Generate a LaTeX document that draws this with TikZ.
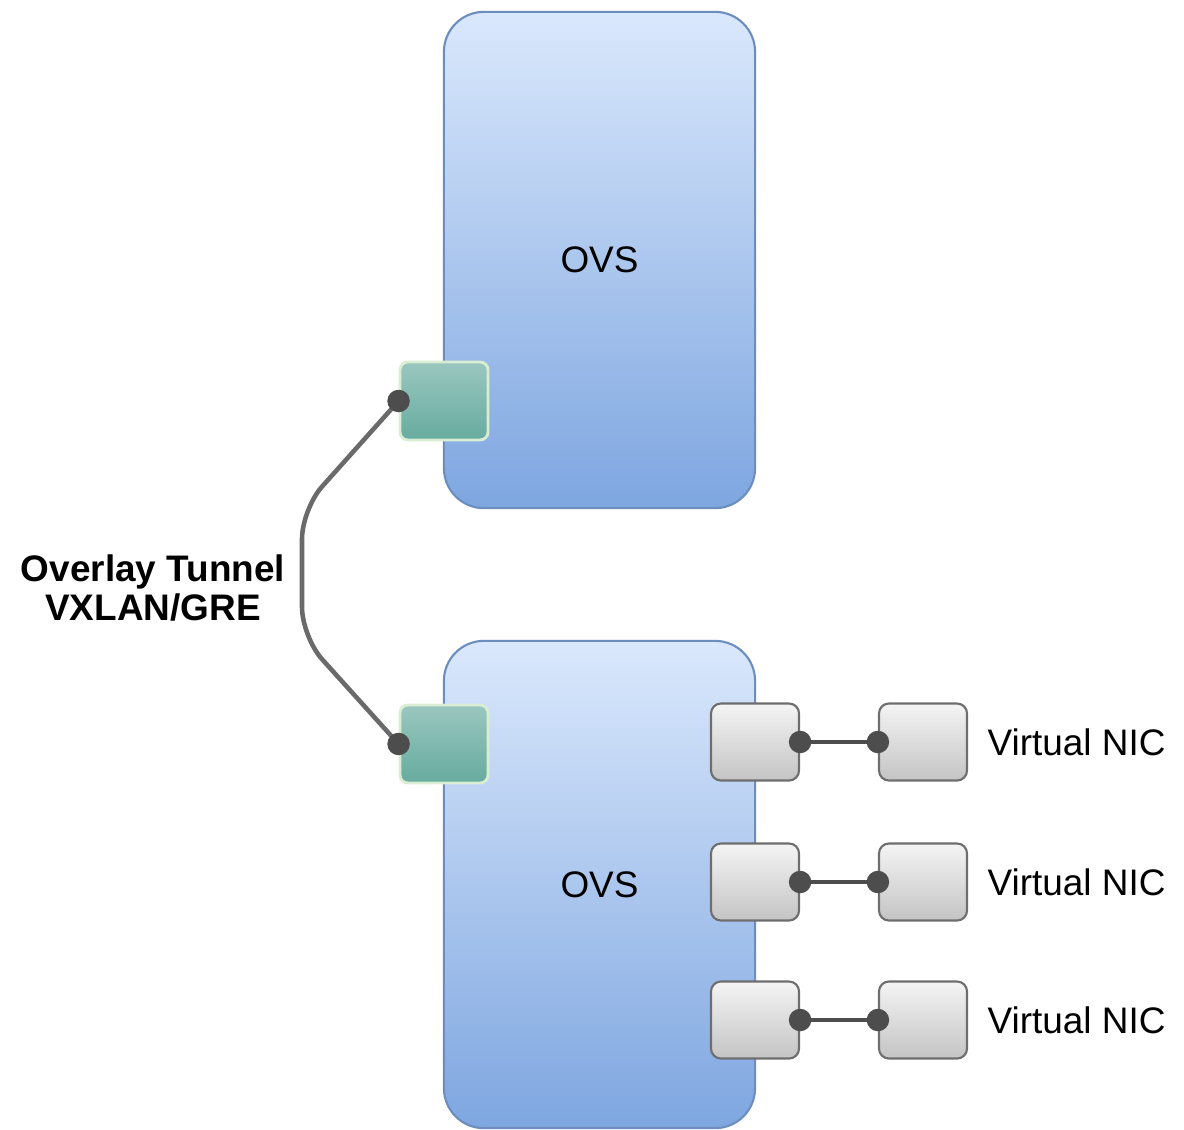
\documentclass[tikz,border=0pt]{standalone}
\usepackage{fontspec}
\setmainfont{Liberation Sans}
\definecolor{ovsTop}{HTML}{DAE8FC}
\definecolor{ovsBot}{HTML}{7EA6E0}
\definecolor{ovsLine}{HTML}{6C8EBF}
\definecolor{portTop}{HTML}{9AC7BF}
\definecolor{portBot}{HTML}{67AB9F}
\definecolor{portLine}{HTML}{D9EDD3}
\definecolor{nicTop}{HTML}{F4F4F4}
\definecolor{nicBot}{HTML}{C4C4C4}
\definecolor{nicLine}{HTML}{6E6E6E}
\definecolor{wire}{HTML}{4D4D4D}
\definecolor{tunnelc}{HTML}{6A6A6A}
\tikzset{
 ovs/.style={draw=ovsLine,line width=0.6pt,rounded corners=0.4cm,top color=ovsTop,bottom color=ovsBot,
  minimum width=3.11cm,minimum height=4.96cm,inner sep=0pt},
 port/.style={draw=portLine,line width=0.8pt,rounded corners=0.08cm,top color=portTop,bottom color=portBot,
  minimum width=0.88cm,minimum height=0.78cm,inner sep=0pt},
 nic/.style={draw=nicLine,line width=0.6pt,rounded corners=0.1cm,top color=nicTop,bottom color=nicBot,
  minimum width=0.88cm,minimum height=0.77cm,inner sep=0pt},
 link/.style={draw=wire,line width=1.3pt},
 tunnel/.style={draw=tunnelc,line width=1.3pt,rounded corners=0.3cm},
 dot/.style={fill=wire}
}
\newcommand{\nicrow}[3]{%
 \node[nic] (#1a) at (755,#2) {};
 \node[nic] (#1b) at (923,#2) {};
 \draw[link] (#1a.east) -- (#1b.west);
 \fill[dot] (#1a.east) circle[radius=3.2pt];
 \fill[dot] (#1b.west) circle[radius=3.2pt];
 \node[anchor=west,inner sep=0pt] (#1t) at (987,#2) {#3};
}

\begin{document}
\begin{tikzpicture}[x=0.01cm,y=-0.01cm,every node/.style={font=\fontsize{10.5}{11}\selectfont}]
 \useasboundingbox (0,0) rectangle (1184,1130);
 \node[ovs] (ovs1) at (599.5,260) {OVS};
 \node[ovs,minimum height=4.87cm] (ovs2) at (599.5,884.5) {OVS};
 \node[port] (p1) at (444,401) {};
 \node[port] (p2) at (444,744) {};
 \coordinate (bendA) at (302,509);
 \coordinate (bendB) at (302,637);
 \draw[tunnel] (p1.west) -- (bendA) -- (bendB) -- (p2.west);
 \fill[dot] (p1.west) circle[radius=3.2pt];
 \fill[dot] (p2.west) circle[radius=3.2pt];
 \node[align=center,font=\fontsize{10.5}{11}\selectfont\bfseries] (lbl) at (153,588) {Overlay Tunnel\\VXLAN/GRE};
 \nicrow{n1}{742}{Virtual NIC}
 \nicrow{n2}{882}{Virtual NIC}
 \nicrow{n3}{1020}{Virtual NIC}
\end{tikzpicture}
\end{document}
